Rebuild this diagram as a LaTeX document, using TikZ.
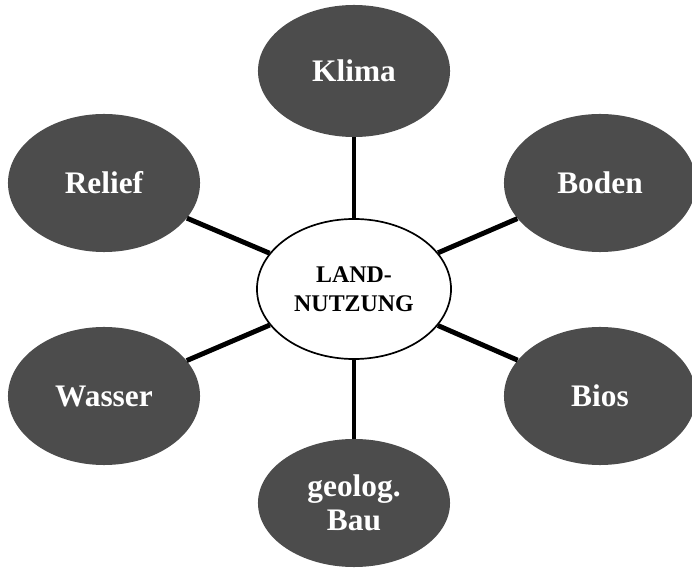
\documentclass[tikz,border=0pt]{standalone}
\usepackage{fontspec}
\setmainfont{Liberation Serif}
\usetikzlibrary{shapes.geometric}

\begin{document}
\begin{tikzpicture}[x=0.025cm,y=-0.025cm,
    factor/.style={ellipse, fill=black!70, draw=none, text=white,
        font=\bfseries\fontsize{22.3}{24.5}\selectfont, align=center,
        minimum width=4.8cm, minimum height=3.45cm, inner sep=0pt},
    center/.style={ellipse, fill=white, draw=black, line width=1.2pt,
        font=\bfseries\fontsize{17}{20.5}\selectfont, align=center,
        minimum width=4.85cm, minimum height=3.5cm, inner sep=0pt},
    spoke/.style={line width=3.5pt}]
\useasboundingbox (0,0) rectangle (692,570);
\node[center] (land) at (354,289) {LAND-\\NUTZUNG};
\node[factor, minimum height=3.3cm] (klima) at (354,71) {Klima};
\node[factor] (relief) at (104,183) {Relief};
\node[factor] (boden) at (600,183) {Boden};
\node[factor] (wasser) at (104,396) {Wasser};
\node[factor] (bios) at (600,396) {Bios};
\node[factor, minimum height=3.2cm] (bau) at (354,503) {geolog.\\Bau};
\foreach \n in {klima,relief,boden,wasser,bios,bau}
    \draw[spoke] (land) -- (\n);
\end{tikzpicture}
\end{document}
